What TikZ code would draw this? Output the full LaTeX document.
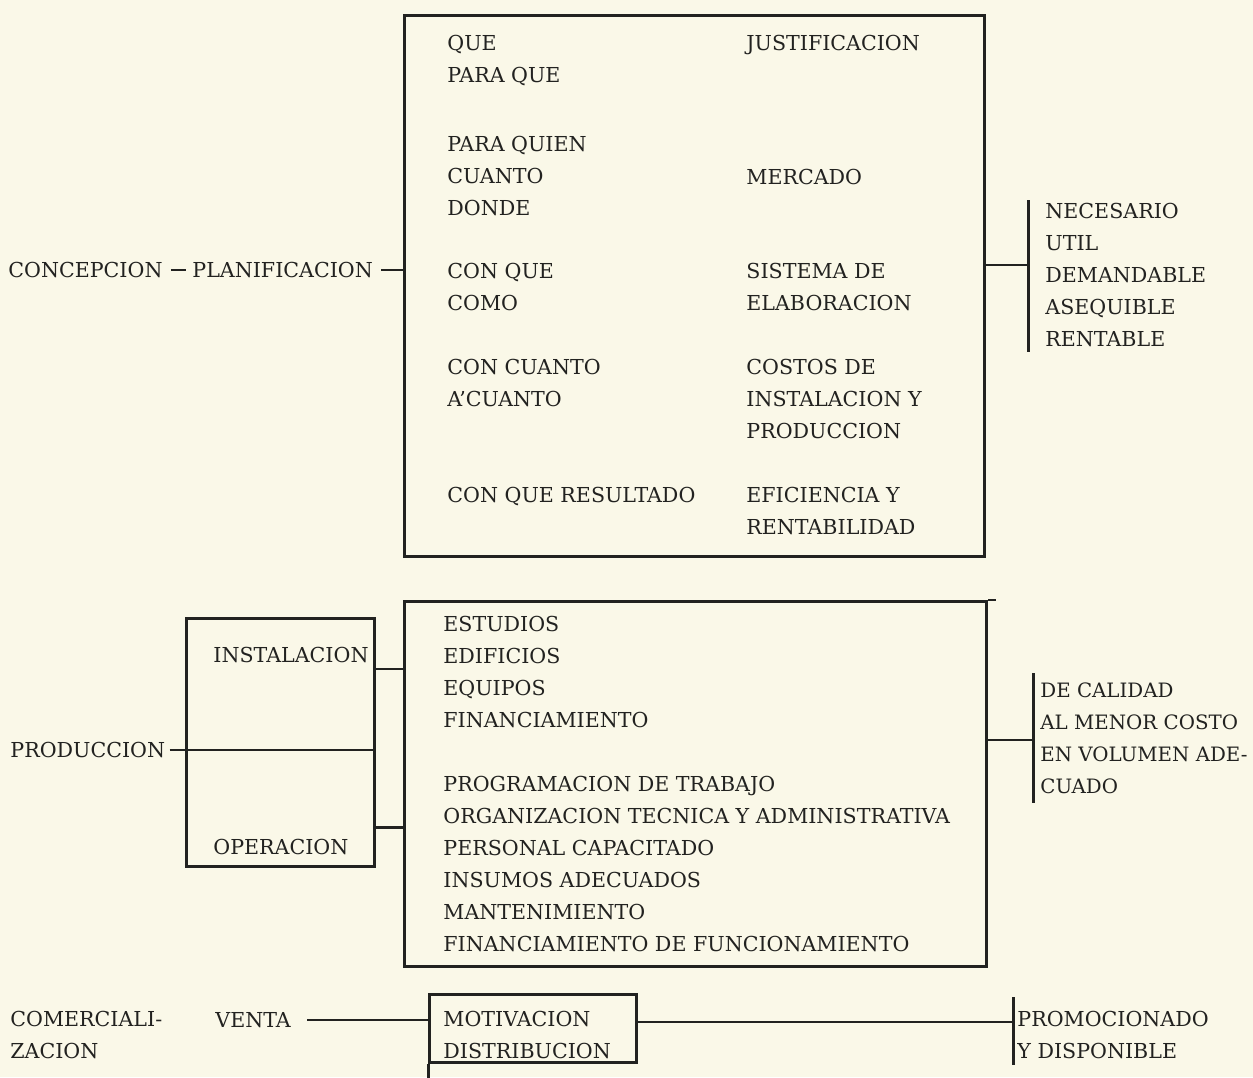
\documentclass[tikz,border=0pt]{standalone}
\usepackage{fontspec}
\setmainfont{DejaVu Serif}
\usetikzlibrary{calc}
\definecolor{papel}{HTML}{FAF8E8}
\definecolor{tinta}{HTML}{222220}

\tikzset{
  caja/.style={draw=tinta, line width=1.5pt, anchor=north west, inner sep=0pt},
  lista/.style={anchor=north west, inner sep=0pt, align=left, text=tinta,
    font=\fontsize{10.3}{16}\selectfont},
  rotulo/.style={anchor=west, inner sep=0pt, text=tinta,
    font=\fontsize{10.3}{16}\selectfont},
  enlace/.style={draw=tinta, line width=1.2pt},
  barra/.style={draw=tinta, line width=1.5pt}
}

\begin{document}
\begin{tikzpicture}[x=0.5pt, y=-0.5pt]
  \fill[papel] (0,0) rectangle (1253,1077);
  \useasboundingbox (0,0) rectangle (1253,1077);

  % concepcion - planificacion
  \node[rotulo] (concep) at (8,270) {CONCEPCION};
  \node[rotulo] (planif) at (192,270) {PLANIFICACION};
  \node[caja, minimum width=290pt, minimum height=270.5pt] (planbox) at (403,14) {};
  \node[lista] (que) at (447,35) {QUE\\PARA QUE};
  \node[lista] (quien) at (447,136) {PARA QUIEN\\CUANTO\\DONDE};
  \node[lista] (conque) at (447,263) {CON QUE\\COMO};
  \node[lista] (cuanto) at (447,359) {CON CUANTO\\A’CUANTO};
  \node[lista] (resultado) at (447,487) {CON QUE RESULTADO};
  \node[lista] (justif) at (746,35) {JUSTIFICACION};
  \node[lista] (mercado) at (746,169) {MERCADO};
  \node[lista] (sistema) at (746,263) {SISTEMA DE\\ELABORACION};
  \node[lista] (costos) at (746,359) {COSTOS DE\\INSTALACION Y\\PRODUCCION};
  \node[lista] (eficiencia) at (746,487) {EFICIENCIA Y\\RENTABILIDAD};
  \node[lista] (necesario) at (1045,203) {NECESARIO\\UTIL\\DEMANDABLE\\ASEQUIBLE\\RENTABLE};
  \coordinate (b1) at (1028,265);
  \draw[enlace, shorten <=4pt, shorten >=3pt] (concep.east) -- (planif.west);
  \draw[enlace, shorten <=4pt] (planif.east) -- (planif.east -| planbox.west);
  \draw[enlace] (planbox.east |- b1) -- (b1);
  \draw[barra] ($(b1)+(0,-65)$) -- ($(b1)+(0,87)$);

  % produccion
  \node[rotulo] (produc) at (10,750) {PRODUCCION};
  \node[caja, minimum width=94pt, minimum height=124pt] (etapas) at (185,617) {};
  \node[rotulo] (instal) at (213,655) {INSTALACION};
  \node[rotulo] (operac) at (213,847) {OPERACION};
  \node[caja, minimum width=291pt, minimum height=182.5pt] (prodbox) at (403,600) {};
  \node[lista] (estudios) at (443,616) {ESTUDIOS\\EDIFICIOS\\EQUIPOS\\FINANCIAMIENTO};
  \node[lista] (program) at (443,776) {PROGRAMACION DE TRABAJO\\ORGANIZACION TECNICA Y ADMINISTRATIVA\\PERSONAL CAPACITADO\\INSUMOS ADECUADOS\\MANTENIMIENTO\\FINANCIAMIENTO DE FUNCIONAMIENTO};
  \node[lista, font=\fontsize{9.9}{16}\selectfont] (calidad) at (1040,682) {DE CALIDAD\\AL MENOR COSTO\\EN VOLUMEN ADE-\\CUADO};
  \coordinate (b2) at (1033,740);
  \coordinate (e1) at ($(etapas.north east)!0.206!(etapas.south east)$);
  \coordinate (e2) at ($(etapas.north east)!0.839!(etapas.south east)$);
  \draw[enlace, shorten <=2pt] (produc.east) -- (produc.east -| etapas.east);
  \draw[enlace] (e1) -- (e1 -| prodbox.west);
  \draw[enlace] (e2) -- (e2 -| prodbox.west);
  \draw[enlace] (prodbox.north east) -- ++(8,0);
  \draw[enlace] (prodbox.east |- b2) -- (b2);
  \draw[barra] ($(b2)+(0,-67)$) -- ($(b2)+(0,63)$);

  % comercializacion
  \node[lista] (comerc) at (10,1011) {COMERCIALI-\\ZACION};
  \node[rotulo] (venta) at (215,1020) {VENTA};
  \node[caja, minimum width=103.5pt, minimum height=34pt] (ventbox) at (428,993) {};
  \node[lista] (motiv) at (443,1011) {MOTIVACION\\DISTRIBUCION};
  \node[lista] (promo) at (1017,1011) {PROMOCIONADO\\Y DISPONIBLE};
  \coordinate (b3) at (1013,1022);
  \draw[enlace, shorten <=8pt] (venta.east) -- (venta.east -| ventbox.west);
  \draw[enlace] (ventbox.east |- b3) -- (b3);
  \draw[barra] ($(b3)+(0,-25)$) -- ($(b3)+(0,43)$);
  \draw[caja] (ventbox.south west) -- ++(0,16);
\end{tikzpicture}
\end{document}
